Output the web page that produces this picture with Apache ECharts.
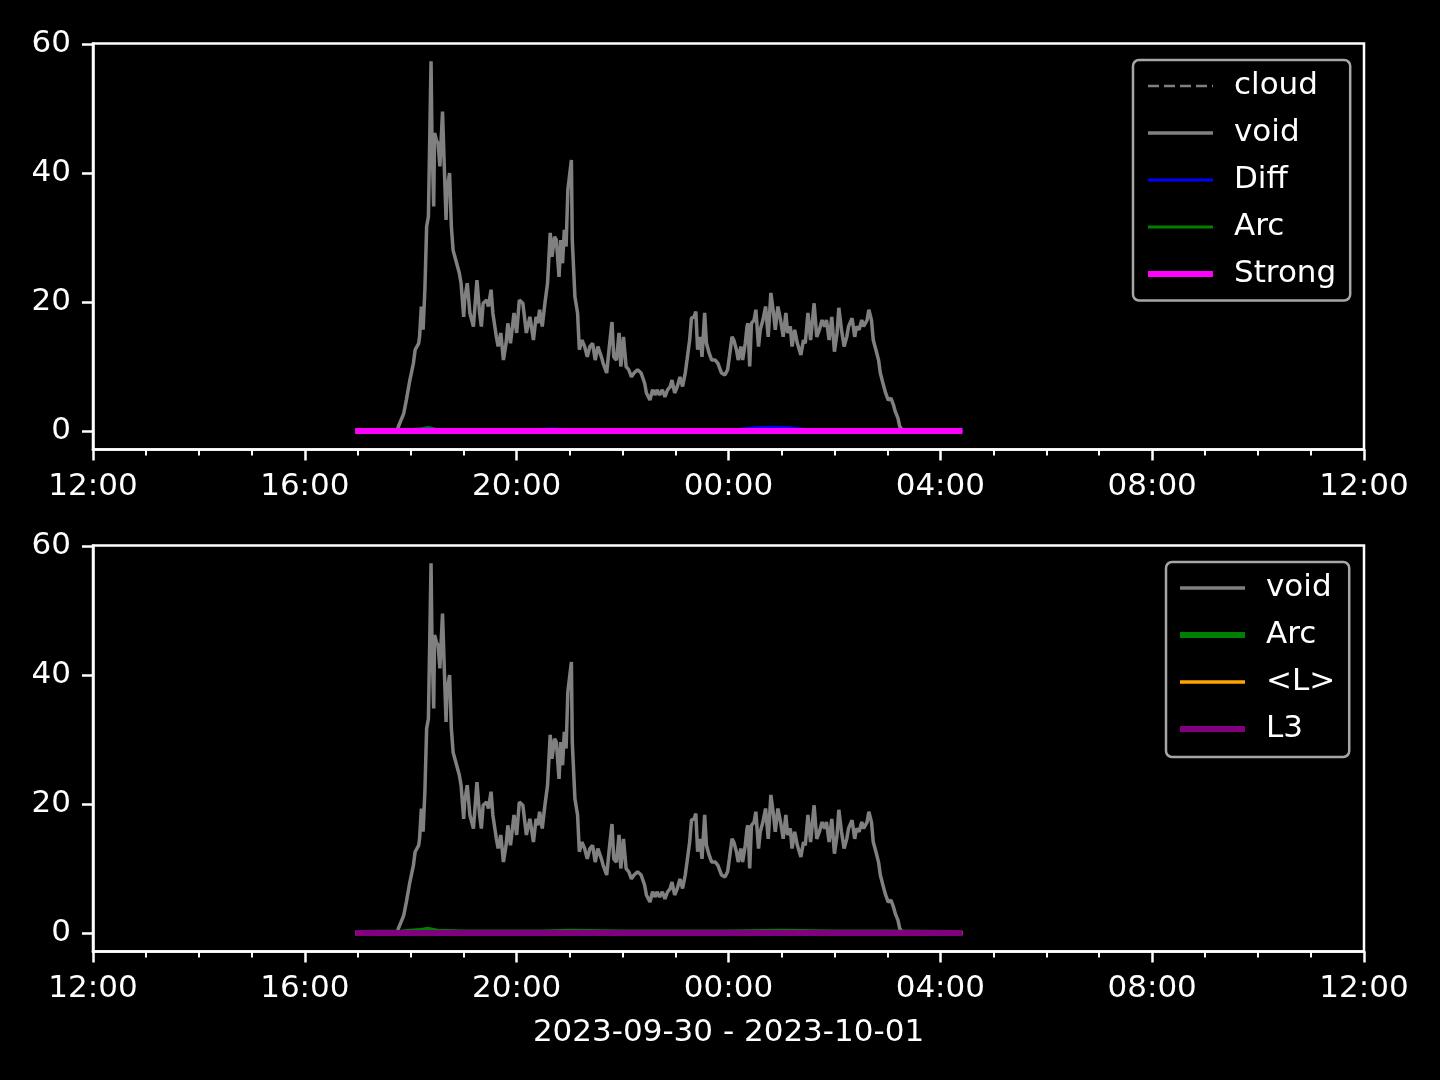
<!DOCTYPE html>
<html>
<head>
<meta charset="utf-8">
<script src="https://cdn.jsdelivr.net/npm/echarts@6/dist/echarts.min.js"></script>
<style>html,body{margin:0;padding:0;background:#000;}#c{width:1440px;height:1080px;}</style>
</head>
<body>
<div id="c"></div>
<script>
// ---- data (times are clock times, 2023-09-30 12:00 -> 2023-10-01 12:00) ----
const xTickLabels = ['12:00', '16:00', '20:00', '00:00', '04:00', '08:00', '12:00'];
const yTickValues = [0, 20, 40, 60];
const dateLabel = '2023-09-30 - 2023-10-01';

const voidTimes = ['16:57','17:44','17:46','17:52','17:55','17:59','18:03','18:05','18:09','18:10','18:12','18:14','18:16','18:18','18:20','18:23','18:24','18:26','18:27','18:29','18:31','18:33','18:36','18:38','18:40','18:41','18:44','18:46','18:48','18:50','18:52','18:55','18:57','19:00','19:01','19:04','19:07','19:11','19:15','19:18','19:20','19:22','19:26','19:28','19:31','19:33','19:37','19:39','19:42','19:45','19:48','19:50','19:53','19:57','20:00','20:03','20:07','20:11','20:15','20:19','20:22','20:24','20:26','20:29','20:32','20:35','20:38','20:40','20:43','20:45','20:48','20:50','20:52','20:54','20:56','20:58','21:02','21:03','21:06','21:09','21:11','21:14','21:17','21:20','21:23','21:26','21:29','21:32','21:36','21:38','21:42','21:45','21:48','21:50','21:53','21:56','21:58','22:01','22:04','22:07','22:10','22:13','22:17','22:21','22:25','22:27','22:31','22:34','22:37','22:39','22:42','22:45','22:48','22:51','22:54','22:56','22:59','23:02','23:05','23:08','23:11','23:13','23:16','23:18','23:21','23:23','23:25','23:28','23:30','23:33','23:35','23:38','23:41','23:45','23:48','23:52','23:56','23:59','00:01','00:04','00:06','00:09','00:11','00:14','00:16','00:19','00:21','00:22','00:24','00:26','00:29','00:31','00:34','00:36','00:39','00:42','00:45','00:48','00:51','00:53','00:56','00:59','01:02','01:05','01:07','01:10','01:12','01:15','01:18','01:22','01:25','01:27','01:30','01:33','01:37','01:40','01:43','01:46','01:49','01:51','01:54','01:57','02:00','02:03','02:05','02:08','02:11','02:14','02:16','02:20','02:23','02:25','02:28','02:31','02:33','02:37','02:39','02:42','02:44','02:47','02:50','02:52','02:55','02:58','03:01','03:04','03:07','03:09','03:12','03:14','03:16','03:18','04:25'];
const voidValues = [0,0,0.7,2.7,4.8,7.9,10.5,12.6,13.6,14.6,19.3,15.7,21.9,31.7,33.2,57.3,45.6,34.8,46.2,45.1,44.6,41,49.5,41,32.7,37.4,40,31.7,28,27,26,24.5,22.9,17.7,20.3,22.9,18.3,16.2,23.4,18.3,16.2,19.8,20.3,19.3,21.9,18.3,14.6,13.1,15.2,11,13.6,16.7,13.6,18.3,15.2,20.3,19.8,15.2,17.7,14.1,17.7,16.7,18.8,16.2,19.8,22.9,30.7,27,30.1,29.6,23.9,29.6,26,31.2,28.6,37.4,42,29.6,20.8,18.3,12.6,14.1,13.1,11.5,13.1,13.6,11,13.1,11.5,10.5,9,13.1,16.9,11.5,11,15.2,10,14.6,10,9.5,8.4,9,9.5,9,7.4,5.9,4.8,6.4,5.6,6.4,5.6,6.4,5.3,6.4,6.9,7.9,5.9,6.9,8.4,6.9,9,11,14.1,17.5,17.7,18.5,12.6,14.6,11.5,18.3,13.6,12.1,11,11,10.5,9,8.7,9.5,11.5,14.6,14.1,12.6,11,13.1,11,13.6,16.2,16.7,10,16.7,17.2,18.8,13.1,15.7,17.2,19.3,14.6,21.4,18.3,15.7,19.3,17.2,14.6,18.3,15.2,16.2,13.1,15.7,13.6,11.8,14.1,13.6,18.3,14.1,19.8,14.6,15.7,17.2,16.2,17.2,14.1,17.7,12.3,15.2,19.1,15.7,13.1,14.6,16.2,17.5,14.6,16.2,15.7,17.2,16.2,17.2,18.8,17.2,14.1,12.6,11,9,7.4,5.9,4.8,5.1,4,3,2,0.7,0.4,0,0];

const cloudTimes = ['16:57','04:25'];
const cloudValues = [0, 0];

const diffTimes = ['16:57','17:50','18:10','18:20','18:30','19:00','20:00','20:40','21:00','22:00','23:00','00:00','00:30','00:50','01:10','01:30','02:00','03:00','04:25'];
const diffValues = [0,0.1,0.3,0.6,0.2,0.1,0.1,0.3,0.2,0.1,0.1,0.1,0.5,0.6,0.5,0.2,0.2,0.1,0];

const arcTimes = ['16:57','17:50','18:10','18:20','18:30','19:00','20:30','21:00','22:00','23:00','00:00','01:00','02:00','03:00','04:25'];
const arcValues = [0,0.1,0.3,0.5,0.2,0.1,0.1,0.2,0.1,0.1,0.1,0.2,0.1,0.1,0];

const strongTimes = ['16:57','04:25'];
const strongValues = [0, 0];

const meanLTimes = ['16:57','04:25'];
const meanLValues = [0, 0];

const l3Times = ['16:57','04:25'];
const l3Values = [0, 0];

// ---- helpers ----
function toHour(t) {
  const p = t.split(':');
  let h = parseInt(p[0], 10) + parseInt(p[1], 10) / 60;
  if (h < 12) h += 24;
  return h;
}
function pairs(times, vals) { return times.map((t, i) => [toHour(t), vals[i]]); }

const FONT = 'DejaVu Sans';
const FS = 31;
const WHITE = '#ffffff';
const DASH = [11, 5];

function xAxis(gi, withName) {
  const ax = {
    type: 'value', gridIndex: gi, min: 12, max: 36, interval: 4,
    axisLine: { show: true, onZero: false, lineStyle: { color: WHITE, width: 2.5 } },
    axisTick: { show: true, length: 11, lineStyle: { color: WHITE, width: 2.5 } },
    minorTick: { show: true, splitNumber: 4, length: 6, lineStyle: { color: WHITE, width: 2 } },
    splitLine: { show: false },
    axisLabel: { color: WHITE, fontFamily: FONT, fontSize: FS, margin: 22,
      formatter: v => xTickLabels[Math.round((v - 12) / 4)] }
  };
  if (withName) {
    ax.name = dateLabel; ax.nameLocation = 'middle'; ax.nameGap = 66;
    ax.nameTextStyle = { color: WHITE, fontFamily: FONT, fontSize: FS };
  }
  return ax;
}
function yAxis(gi) {
  return {
    type: 'value', gridIndex: gi, min: -2.86, max: 60.06,
    axisLine: { show: true, lineStyle: { color: WHITE, width: 2.5 } },
    axisTick: { show: true, length: 11, customValues: yTickValues, lineStyle: { color: WHITE, width: 2.5 } },
    splitLine: { show: false },
    axisLabel: { color: WHITE, fontFamily: FONT, fontSize: FS, margin: 22, customValues: yTickValues }
  };
}
function line(name, gi, times, vals, color, width, dashed, z) {
  return {
    name: name, type: 'line', xAxisIndex: gi, yAxisIndex: gi,
    data: pairs(times, vals), symbol: 'none', showSymbol: false, z: z,
    lineStyle: { color: color, width: width, type: dashed ? DASH : 'solid' },
    itemStyle: { color: color }, emphasis: { disabled: true }, animation: false
  };
}
function legend(items, left, top, pad) {
  return {
    orient: 'vertical', left: left, top: top, padding: pad,
    itemWidth: 65, itemHeight: 14, itemGap: 16,
    backgroundColor: '#000', borderColor: '#a6a6a6', borderWidth: 2.5, borderRadius: 6,
    textStyle: { color: WHITE, fontFamily: FONT, fontSize: FS, lineHeight: 31, padding: [0, 0, 0, 16] },
    data: items.map(it => ({
      name: it[0],
      itemStyle: { opacity: 0 },
      lineStyle: { color: it[1], width: it[2], type: it[3] ? DASH : 'solid', opacity: 1 }
    })),
    selectedMode: false
  };
}

const chart = echarts.init(document.getElementById('c'), null, { renderer: 'canvas' });
chart.setOption({
  backgroundColor: '#000',
  animation: false,
  grid: [
    { left: 93, right: 76, top: 43.5, height: 406, show: true, borderColor: WHITE, borderWidth: 2.5, backgroundColor: 'transparent' },
    { left: 93, right: 76, top: 545.5, height: 406, show: true, borderColor: WHITE, borderWidth: 2.5, backgroundColor: 'transparent' }
  ],
  xAxis: [xAxis(0, false), xAxis(1, true)],
  yAxis: [yAxis(0), yAxis(1)],
  legend: [
    legend([['cloud', '#808080', 2.5, true], ['void', '#808080', 3.5], ['Diff', '#0000ff', 3], ['Arc', '#008000', 3], ['Strong', '#ff00ff', 6]],
      1133, 60, [10.5, 14, 11, 12]),
    legend([['void', '#808080', 3.5], ['Arc', '#008000', 6], ['<L>', '#ffa500', 3.5], ['L3', '#800080', 6]],
      1166, 562, [10.5, 14, 12.5, 11])
  ],
  series: [
    line('cloud', 0, cloudTimes, cloudValues, '#808080', 2.5, true, 1),
    line('void', 0, voidTimes, voidValues, '#808080', 3.5, false, 2),
    line('Diff', 0, diffTimes, diffValues, '#0000ff', 3, false, 3),
    line('Arc', 0, arcTimes, arcValues, '#008000', 3, false, 4),
    line('Strong', 0, strongTimes, strongValues, '#ff00ff', 6, false, 5),
    line('void', 1, voidTimes, voidValues, '#808080', 3.5, false, 2),
    line('Arc', 1, arcTimes, arcValues, '#008000', 6, false, 3),
    line('<L>', 1, meanLTimes, meanLValues, '#ffa500', 3.5, false, 4),
    line('L3', 1, l3Times, l3Values, '#800080', 6, false, 5)
  ]
});
</script>
</body>
</html>
